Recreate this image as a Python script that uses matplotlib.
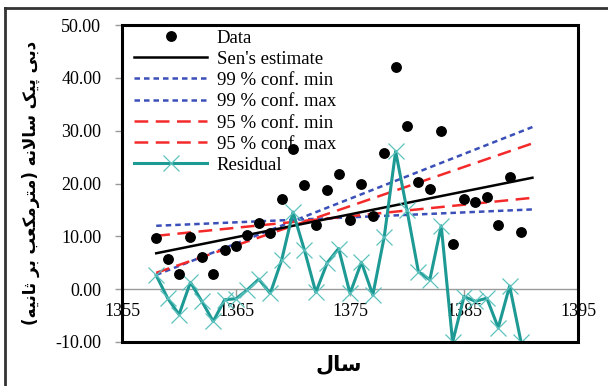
import matplotlib
matplotlib.use("Agg")
import matplotlib.pyplot as plt
from matplotlib.lines import Line2D
from matplotlib.patches import Rectangle

# ---------------- data ----------------
years = list(range(1358, 1391))
peak_flow = [9.7, 5.8, 2.9, 9.8, 6.0, 2.9, 7.4, 8.2, 10.2, 12.6, 10.6, 17.1,
             26.6, 19.7, 12.1, 18.7, 21.8, 13.1, 20.0, 13.8, 25.7, 42.0, 30.9,
             20.2, 19.0, 30.0, 8.5, 17.1, 16.5, 17.5, 12.1, 21.2, 10.8]
residual = [2.6, -1.7, -4.8, 1.3, -2.3, -6.1, -2.0, -1.8, -0.1, 1.9, -0.8, 5.5,
            14.6, 7.4, -0.6, 5.0, 7.7, -0.8, 5.1, -1.1, 9.9, 26.1, 14.9,
            3.3, 1.8, 12.0, -10.0, -1.4, -2.3, -1.7, -7.3, 0.6, -10.0]
line_years = [1358, 1391]
sen_est = [6.8, 21.1]
conf99_min = [12.0, 15.1]
conf99_max = [2.7, 30.7]
conf95_min = [10.1, 17.3]
conf95_max = [3.1, 27.6]

x_ticks = [1355, 1365, 1375, 1385, 1395]
y_ticks = [-10, 0, 10, 20, 30, 40, 50]

ylabel_text = "دبی پیک سالانه (مترمکعب بر ثانیه)"
xlabel_text = "سال"

# ------------- minimal Arabic/Persian shaping -------------
FORMS = {  # isolated, final, initial, medial
    'ا': ('\uFE8D', '\uFE8E', None, None),
    'ب': ('\uFE8F', '\uFE90', '\uFE91', '\uFE92'),
    'ت': ('\uFE95', '\uFE96', '\uFE97', '\uFE98'),
    'ث': ('\uFE99', '\uFE9A', '\uFE9B', '\uFE9C'),
    'د': ('\uFEA9', '\uFEAA', None, None),
    'ر': ('\uFEAD', '\uFEAE', None, None),
    'س': ('\uFEB1', '\uFEB2', '\uFEB3', '\uFEB4'),
    'ع': ('\uFEC9', '\uFECA', '\uFECB', '\uFECC'),
    'ل': ('\uFEDD', '\uFEDE', '\uFEDF', '\uFEE0'),
    'م': ('\uFEE1', '\uFEE2', '\uFEE3', '\uFEE4'),
    'ن': ('\uFEE5', '\uFEE6', '\uFEE7', '\uFEE8'),
    'ه': ('\uFEE9', '\uFEEA', '\uFEEB', '\uFEEC'),
    'پ': ('\uFB56', '\uFB57', '\uFB58', '\uFB59'),
    'ک': ('\uFB8E', '\uFB8F', '\uFB90', '\uFB91'),
    'ی': ('\uFBFC', '\uFBFD', '\uFBFE', '\uFBFF'),
}


def shape(text):
    chars = list(text)
    out = []
    i = 0
    n = len(chars)
    while i < n:
        c = chars[i]
        if c not in FORMS:
            out.append(c)
            i += 1
            continue
        prev = chars[i - 1] if i > 0 else None
        joins_prev = prev in FORMS and FORMS[prev][2] is not None
        # lam-alef ligature
        if c == 'ل' and i + 1 < n and chars[i + 1] == 'ا':
            out.append('\uFEFC' if joins_prev else '\uFEFB')
            i += 2
            continue
        nxt = chars[i + 1] if i + 1 < n else None
        joins_next = FORMS[c][2] is not None and nxt in FORMS
        iso, fin, ini, med = FORMS[c]
        if joins_prev and joins_next:
            out.append(med)
        elif joins_prev:
            out.append(fin)
        elif joins_next:
            out.append(ini)
        else:
            out.append(iso)
        i += 1
    vis = ''.join(reversed(out))
    vis = vis.translate(str.maketrans({'(': ')', ')': '('}))
    return vis


# ---------------- figure ----------------
plt.rcParams['font.family'] = ['Liberation Serif', 'DejaVu Sans']
fig = plt.figure(figsize=(6.08, 3.86), dpi=100)
ax = fig.add_axes([0.2007, 0.114, 0.75, 0.821])

teal = '#1E9A95'
blue = '#3B4FB8'
red = '#F42A2A'

ax.plot(years, peak_flow, 'o', color='black', markersize=6.8, label='Data', zorder=5)
ax.plot(line_years, sen_est, '-', color='black', lw=1.8, label="Sen's estimate", zorder=4)
ax.plot(line_years, conf99_min, color=blue, lw=1.8, dashes=(2.2, 1.6), label='99 % conf. min', zorder=3)
ax.plot(line_years, conf99_max, color=blue, lw=1.8, dashes=(2.2, 1.6), label='99 % conf. max', zorder=3)
ax.plot(line_years, conf95_min, color=red, lw=1.8, dashes=(5.5, 3.0), label='95 % conf. min', zorder=3)
ax.plot(line_years, conf95_max, color=red, lw=1.8, dashes=(5.5, 3.0), label='95 % conf. max', zorder=3)
ax.plot(years, residual, '-', color=teal, lw=2.2, marker='x', markersize=11,
        markeredgewidth=0.9, markeredgecolor='#5EC2BE', label='Residual', zorder=4)

ax.set_xlim(1355, 1395)
ax.set_ylim(-10, 50)
ax.set_xticks(x_ticks)
ax.set_yticks(y_ticks)
ax.set_yticklabels([f"{v:.2f}" for v in y_ticks])

for s in ['top', 'right', 'left']:
    ax.spines[s].set_visible(False)
ax.spines['bottom'].set_position(('data', 0))
ax.spines['bottom'].set_color('#9a9a9a')
ax.spines['bottom'].set_linewidth(1.0)
ax.add_patch(Rectangle((0, 0), 1, 1, transform=ax.transAxes, fill=False,
                       edgecolor='black', lw=2.2, zorder=10, clip_on=False))

ax.tick_params(axis='x', direction='out', length=5, width=1, color='#9a9a9a',
               labelsize=13, pad=5)
ax.tick_params(axis='y', direction='out', length=5, width=1, color='#9a9a9a',
               labelsize=13, pad=10)

leg = ax.legend(loc='upper left', bbox_to_anchor=(0.01, 1.01), frameon=False,
                fontsize=13.5, handlelength=3.9, handletextpad=0.5,
                labelspacing=0.22, borderaxespad=0.0, numpoints=1)

fig.text(0.05, 0.525, shape(ylabel_text), rotation=90, ha='center', va='center',
         fontsize=12, fontweight='bold', family='DejaVu Sans')
fig.text(0.557, 0.057, shape(xlabel_text), ha='center', va='center',
         fontsize=15, fontweight='bold', family='DejaVu Sans')

# outer border of the picture
fig.add_artist(Line2D([0.008, 0.008], [0.0, 0.979], transform=fig.transFigure,
                      color='#333333', lw=2))
fig.add_artist(Line2D([0.008, 1.0], [0.979, 0.979], transform=fig.transFigure,
                      color='#333333', lw=2))

fig.savefig('out.png', dpi=100)
